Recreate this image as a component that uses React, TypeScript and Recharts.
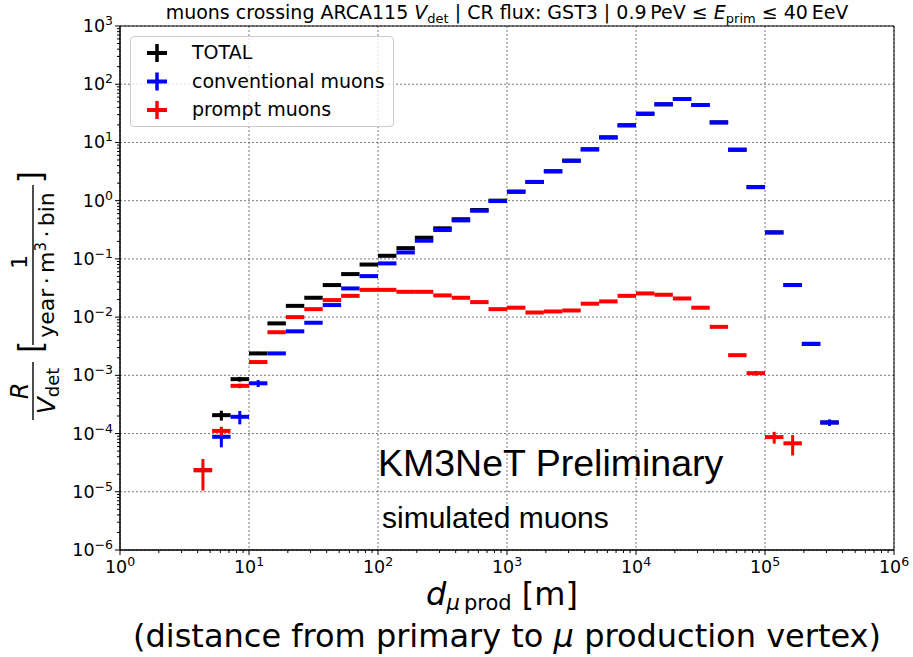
import React from "react";
import {
  ScatterChart,
  Scatter,
  XAxis,
  YAxis,
  CartesianGrid,
  ErrorBar,
  ReferenceArea,
  Legend,
} from "recharts";

// bins: 7 per decade, bin k spans 10^(k/7) .. 10^((k+1)/7) m
const BINS_PER_DECADE = 7;

// TOTAL
const totalFirstBin = 4;
const totalValues = [
  2.35e-5, 2.07e-4, 8.6e-4, 2.38e-3, 7.8e-3, 0.0156, 0.0215, 0.0355, 0.0548, 0.08, 0.113, 0.153,
  0.231, 0.335, 0.48, 0.69, 1.0, 1.43, 2.1, 3.2, 4.86, 7.62, 12.2, 19.7, 31.1, 45.2, 55.7, 44.0,
  22.1, 7.5, 1.71, 0.285, 0.0356, 3.47e-3, 1.55e-4,
];
const totalErrors = [
  0, 4e-5, 8e-5, 1.5e-4, 0, 0, 0, 0, 0, 0, 0, 0, 0, 0, 0, 0, 0, 0, 0, 0, 0, 0, 0, 0, 0, 0, 0, 0,
  0, 0, 0, 0, 0, 0, 0,
];

// conventional muons
const convFirstBin = 5;
const convValues = [
  8.8e-5, 1.94e-4, 7.3e-4, 2.38e-3, 5.7e-3, 8.0e-3, 0.0161, 0.0311, 0.0506, 0.0837, 0.129, 0.205,
  0.313, 0.458, 0.671, 0.984, 1.42, 2.09, 3.19, 4.85, 7.6, 12.2, 19.7, 31.1, 45.2, 55.7, 44.0,
  22.1, 7.49, 1.71, 0.285, 0.0355, 3.47e-3, 1.55e-4,
];
const convErrors = [
  3e-5, 5e-5, 1e-4, 0, 0, 0, 0, 0, 0, 0, 0, 0, 0, 0, 0, 0, 0, 0, 0, 0, 0, 0, 0, 0, 0, 0, 0, 0,
  0, 0, 0, 0, 0, 2e-5,
];

// prompt muons
const promptFirstBin = 4;
const promptValues = [
  2.35e-5, 1.11e-4, 6.6e-4, 1.69e-3, 5.5e-3, 0.01, 0.0137, 0.0196, 0.0232, 0.0294, 0.0294, 0.0272,
  0.0272, 0.0236, 0.0215, 0.0181, 0.0137, 0.0145, 0.012, 0.0125, 0.013, 0.017, 0.0186, 0.0232,
  0.0255, 0.0242, 0.0209, 0.0145, 6.8e-3, 2.22e-3, 1.09e-3, 8.7e-5, 6.8e-5,
];
const promptErrors = [
  1.3e-5, 2e-5, 6e-5, 0, 0, 0, 0, 0, 0, 0, 0, 0, 0, 0, 0, 0, 0, 0, 0, 0, 0, 0, 0, 0, 0, 0, 0, 0,
  0, 0, 1e-4, 2e-5, 2.6e-5,
];

const xMajorTicks = [1, 10, 100, 1e3, 1e4, 1e5, 1e6];
const yMajorTicks = [1e-6, 1e-5, 1e-4, 1e-3, 1e-2, 1e-1, 1, 10, 100, 1e3];
const minorSteps = [2, 3, 4, 5, 6, 7, 8, 9];

const withMinors = (majors: number[]) => {
  const out = [...majors];
  majors.slice(0, -1).forEach((m) => minorSteps.forEach((s) => out.push(m * s)));
  return out.sort((a, b) => a - b);
};
const xTicks = withMinors(xMajorTicks);
const yTicks = withMinors(yMajorTicks);

const makePoints = (firstBin: number, values: number[], errors: number[]) =>
  values.map((v, i) => {
    const k = firstBin + i;
    const lo = 10 ** (k / BINS_PER_DECADE);
    const hi = 10 ** ((k + 1) / BINS_PER_DECADE);
    const x = 10 ** ((k + 0.5) / BINS_PER_DECADE);
    return { x, y: v, xErr: [x - lo, hi - x], yErr: errors[i] };
  });

const series = [
  { name: "TOTAL", color: "#000000", data: makePoints(totalFirstBin, totalValues, totalErrors) },
  { name: "conventional muons", color: "#0000ff", data: makePoints(convFirstBin, convValues, convErrors) },
  { name: "prompt muons", color: "#ff0000", data: makePoints(promptFirstBin, promptValues, promptErrors) },
];

const FONT = "DejaVu Sans";

const expLabel = (v: number) => {
  const e = Math.round(Math.log10(v));
  return { major: Math.abs(Math.log10(v) - e) < 1e-6, txt: (e < 0 ? "\u2212" : "") + Math.abs(e) };
};

const XTick = (props: any) => {
  const { x, y, payload } = props;
  const { major, txt } = expLabel(payload.value);
  return (
    <g>
      <line x1={x} x2={x} y1={y} y2={y + (major ? 5 : 3)} stroke="#000" strokeWidth={1} />
      {major && (
        <text x={x} y={y + 23} textAnchor="middle" fontSize={17.5} fontFamily={FONT} fill="#000">
          10
          <tspan dy={-7} fontSize={12.5}>
            {txt}
          </tspan>
        </text>
      )}
    </g>
  );
};

const YTick = (props: any) => {
  const { x, y, payload } = props;
  const { major, txt } = expLabel(payload.value);
  return (
    <g>
      <line x1={x - (major ? 5 : 3)} x2={x} y1={y} y2={y} stroke="#000" strokeWidth={1} />
      {major && (
        <text x={x - 7} y={y + 6} textAnchor="end" fontSize={17.5} fontFamily={FONT} fill="#000">
          10
          <tspan dy={-7} fontSize={12.5}>
            {txt}
          </tspan>
        </text>
      )}
    </g>
  );
};

const LegendBox = () => (
  <div
    style={{
      width: 264,
      height: 91,
      boxSizing: "border-box",
      border: "1px solid #cccccc",
      borderRadius: 4,
      background: "rgba(255,255,255,0.8)",
    }}
  >
    <svg width={262} height={89} style={{ display: "block" }}>
      {series.map((s, i) => {
        const cy = 16 + i * 28.5;
        return (
          <g key={s.name}>
            <line x1={16} x2={36} y1={cy} y2={cy} stroke={s.color} strokeWidth={4} />
            <line x1={26} x2={26} y1={cy - 9} y2={cy + 9} stroke={s.color} strokeWidth={3.5} />
            <text x={61} y={cy + 6} fontSize={19} fontFamily={FONT} fill="#000">
              {s.name}
            </text>
          </g>
        );
      })}
    </svg>
  </div>
);

export default function App() {
  return (
    <div style={{ position: "absolute", left: 0, top: 0, width: 913, height: 657, background: "#fff" }}>
      <ScatterChart width={913} height={657} margin={{ top: 26, right: 19, bottom: 0, left: 0 }}>
        <CartesianGrid
          verticalValues={xMajorTicks}
          horizontalValues={yMajorTicks}
          stroke="#555"
          strokeDasharray="2 2"
          strokeWidth={0.8}
        />
        <XAxis
          dataKey="x"
          type="number"
          scale="log"
          domain={[1, 1e6]}
          allowDataOverflow
          ticks={xTicks}
          interval={0}
          tick={<XTick />}
          tickLine={false}
          tickSize={0}
          tickMargin={0}
          height={107}
          axisLine={{ stroke: "#000" }}
        />
        <YAxis
          dataKey="y"
          type="number"
          scale="log"
          domain={[1e-6, 1e3]}
          allowDataOverflow
          ticks={yTicks}
          interval={0}
          tick={<YTick />}
          tickLine={false}
          tickSize={0}
          tickMargin={0}
          width={120}
          axisLine={{ stroke: "#000" }}
        />
        {series.map((s) => (
          <Scatter
            key={s.name}
            name={s.name}
            data={s.data}
            fill={s.color}
            shape={() => <g />}
            isAnimationActive={false}
          >
            <ErrorBar dataKey="xErr" direction="x" width={0} stroke={s.color} strokeWidth={4} isAnimationActive={false} />
            <ErrorBar dataKey="yErr" direction="y" width={0} stroke={s.color} strokeWidth={3} isAnimationActive={false} />
          </Scatter>
        ))}
        <ReferenceArea x1={1} x2={1e6} y1={1e-6} y2={1e3} fill="none" stroke="#000" strokeWidth={1} />
        <Legend
          layout="vertical"
          align="center"
          verticalAlign="middle"
          wrapperStyle={{ left: 130, top: 36, width: 264, height: 91 }}
          content={() => <LegendBox />}
        />
      </ScatterChart>

      <svg
        width={913}
        height={657}
        style={{ position: "absolute", left: 0, top: 0, pointerEvents: "none" }}
        fontFamily={FONT}
      >
        {/* title */}
        <text x={507} y={19} textAnchor="middle" fontSize={19} fill="#000">
          muons crossing ARCA115 <tspan fontStyle="italic">V</tspan>
          <tspan fontSize={13} dy={4}>det</tspan>
          <tspan dy={-4}>{" | CR flux: GST3 | 0.9\u2009PeV \u2264 "}</tspan>
          <tspan fontStyle="italic">E</tspan>
          <tspan fontSize={13} dy={4}>prim</tspan>
          <tspan dy={-4}>{" \u2264 40\u2009EeV"}</tspan>
        </text>

        {/* annotations */}
        <text x={378} y={476} fontSize={37.5} fontFamily="Liberation Sans" fill="#000">
          KM3NeT Preliminary
        </text>
        <text x={382} y={528} fontSize={30} fontFamily="Liberation Sans" fill="#000">
          simulated muons
        </text>

        {/* x label */}
        <text x={502} y={605} textAnchor="middle" fontSize={32} fill="#000">
          <tspan fontStyle="italic">d</tspan>
          <tspan fontSize={21} dy={5} fontStyle="italic">{"\u03bc"}</tspan>
          <tspan fontSize={21}>{"\u2009prod"}</tspan>
          <tspan dy={-5}>{" [m]"}</tspan>
        </text>
        <text x={507} y={647} textAnchor="middle" fontSize={32} fill="#000">
          (distance from primary to <tspan fontStyle="italic">{"\u03bc"}</tspan> production vertex)
        </text>

        {/* y label */}
        <g transform="translate(33,0) rotate(-90)" fill="#000">
          <text x={-391} y={-5} textAnchor="middle" fontSize={24} fontStyle="italic">R</text>
          <line x1={-420} x2={-362} y1={0} y2={0} stroke="#000" strokeWidth={1.4} />
          <text x={-391} y={22} textAnchor="middle" fontSize={25}>
            <tspan fontStyle="italic">V</tspan>
            <tspan fontSize={18} dy={4}>det</tspan>
          </text>
          <text x={-353} y={8} fontSize={31.5}>[</text>
          <text x={-262} y={-6} textAnchor="middle" fontSize={22}>1</text>
          <line x1={-345} x2={-185} y1={0} y2={0} stroke="#000" strokeWidth={1.4} />
          <text x={-265} y={21} textAnchor="middle" fontSize={22}>
            {"year\u2009\u00b7\u2009m"}
            <tspan fontSize={15} dy={-8}>3</tspan>
            <tspan dy={8}>{"\u2009\u00b7\u2009bin"}</tspan>
          </text>
          <text x={-171} y={8} textAnchor="end" fontSize={31.5}>]</text>
        </g>
      </svg>
    </div>
  );
}
